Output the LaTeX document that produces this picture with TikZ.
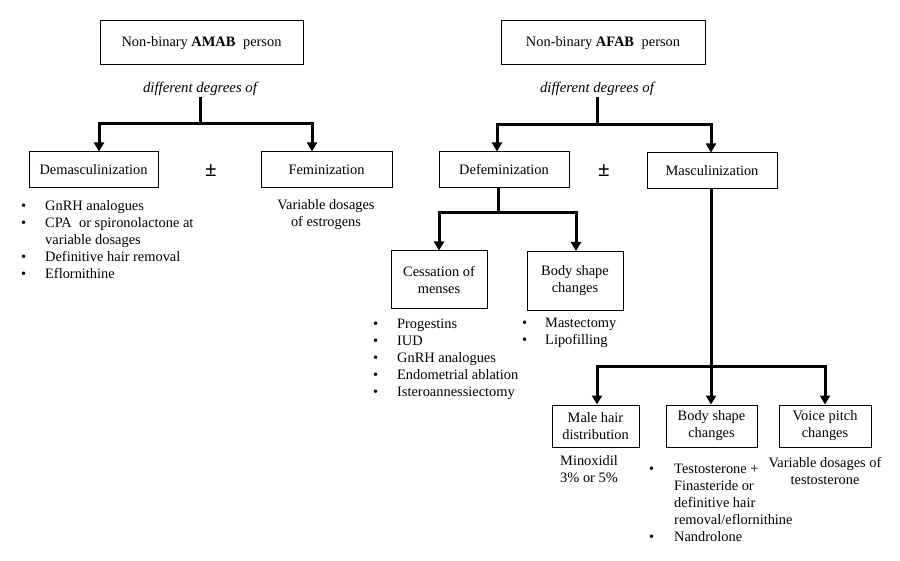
\documentclass[tikz,border=0pt]{standalone}
\usepackage{fontspec}
\setmainfont{Liberation Serif}
\usetikzlibrary{arrows.meta}
\begin{document}
\begin{tikzpicture}[x=1pt,y=-1pt,
  box/.style={draw, line width=1pt, inner sep=0pt, align=center, font=\fontsize{14.4}{17}\selectfont},
  txt/.style={inner sep=0pt, align=left, font=\fontsize{14.4}{17}\selectfont},
  ctxt/.style={inner sep=0pt, align=center, font=\fontsize{14.4}{17}\selectfont},
  itxt/.style={inner sep=1pt, font=\fontsize{14.8}{17}\selectfont\itshape},
  pm/.style={inner sep=0pt, font=\fontsize{21}{21}\selectfont\bfseries},
  conn/.style={line width=3pt},
  arr/.style={line width=3pt, -{Triangle[width=10pt,length=9pt]}}]
\useasboundingbox (0,0) rectangle (900,561);
\newcommand{\bl}{\makebox[24pt][l]{\textbullet}}
\newcommand{\bi}{\hspace*{24pt}}

% ---------- left side ----------
\node[box, minimum width=203pt, minimum height=44pt] (amab) at (201.5,43) {Non-binary \textbf{AMAB}\hspace{4pt} person};
\node[itxt, anchor=base] (dd1) at (200,93) {different degrees of};
\node[box, minimum width=129pt, minimum height=36pt] (demasc) at (93.5,170) {Demasculinization};
\node[box, minimum width=131pt, minimum height=36pt] (fem) at (326.5,170) {Feminization};
\node[pm] (pm1) at (211,171) {±};
\node[txt, anchor=north west] (dlist) at (21,200.5) {\bl GnRH analogues\\ \bl CPA\ \ or spironolactone at\\ \bi variable dosages\\ \bl Definitive hair removal\\ \bl Eflornithine};
\node[ctxt, anchor=north] (flist) at (326,199.5) {Variable dosages\\ of estrogens};

\coordinate (j1) at (200,124);
\coordinate (a1) at (99,124);
\coordinate (a2) at (312,124);
\draw[conn] (dd1.south) -- (j1);
\draw[arr] (j1) -- (a1) -- (a1 |- demasc.north);
\draw[arr] (j1) -- (a2) -- (a2 |- fem.north);

% ---------- right side ----------
\node[box, minimum width=204pt, minimum height=44pt] (afab) at (603,43) {Non-binary \textbf{AFAB}\hspace{4pt} person};
\node[itxt, anchor=base] (dd2) at (597,93) {different degrees of};
\node[box, minimum width=130pt, minimum height=36pt] (defem) at (504,170) {Defeminization};
\node[box, minimum width=130pt, minimum height=36pt] (masc) at (712,171) {Masculinization};
\node[pm] (pm2) at (604,171) {±};

\coordinate (j2) at (597,125);
\coordinate (b1) at (497,125);
\coordinate (b2) at (711,125);
\draw[conn] (dd2.south) -- (j2);
\draw[arr] (j2) -- (b1) -- (b1 |- defem.north);
\draw[arr] (j2) -- (b2) -- (b2 |- masc.north);

\node[box, minimum width=96pt, minimum height=58pt] (cess) at (439,280) {Cessation of\\ menses};
\node[box, minimum width=96pt, minimum height=59pt] (bodyd) at (575,281) {Body shape\\ changes};

\coordinate (j3) at (498,213);
\coordinate (c1) at (439,213);
\coordinate (c2) at (576,213);
\draw[conn] (defem.south -| j3) -- (j3);
\draw[arr] (j3) -- (c1) -- (c1 |- cess.north);
\draw[arr] (j3) -- (c2) -- (c2 |- bodyd.north);

\node[txt, anchor=north west] (clist) at (373,318.5) {\makebox[24pt][l]{\textbullet}Progestins\\ \makebox[24pt][l]{\textbullet}IUD\\ \makebox[24pt][l]{\textbullet}GnRH analogues\\ \makebox[24pt][l]{\textbullet}Endometrial ablation\\ \makebox[24pt][l]{\textbullet}Isteroannessiectomy};
\node[txt, anchor=north west] (bdlist) at (522,317.5) {\makebox[23pt][l]{\textbullet}Mastectomy\\ \makebox[23pt][l]{\textbullet}Lipofilling};

\node[box, minimum width=87pt, minimum height=42pt] (hair) at (595.5,426) {Male hair\\ distribution};
\node[box, minimum width=91pt, minimum height=42pt] (bodym) at (711.5,426) {Body shape\\ changes};
\node[box, minimum width=92pt, minimum height=42pt] (voice) at (825,426) {Voice pitch\\ changes};

\coordinate (j4) at (711,367);
\coordinate (d1) at (597,367);
\coordinate (d3) at (825,367);
\draw[conn] (masc.south -| j4) -- (j4);
\draw[arr] (j4) -- (d1) -- (d1 |- hair.north);
\draw[arr] (j4) -- (j4 |- bodym.north);
\draw[arr] (j4) -- (d3) -- (d3 |- voice.north);

\node[txt, anchor=north west] (hlist) at (560,455.5) {Minoxidil\\ 3\% or 5\%};
\node[txt, anchor=north west] (bmlist) at (649,463.5) {\makebox[25pt][l]{\textbullet}Testosterone +\\ \hspace*{25pt}Finasteride or\\ \hspace*{25pt}definitive hair\\ \hspace*{25pt}removal/eflornithine\\ \makebox[25pt][l]{\textbullet}Nandrolone};
\node[ctxt, anchor=north] (vlist) at (825,457.5) {Variable\ dosages of\\ testosterone};
\end{tikzpicture}
\end{document}
